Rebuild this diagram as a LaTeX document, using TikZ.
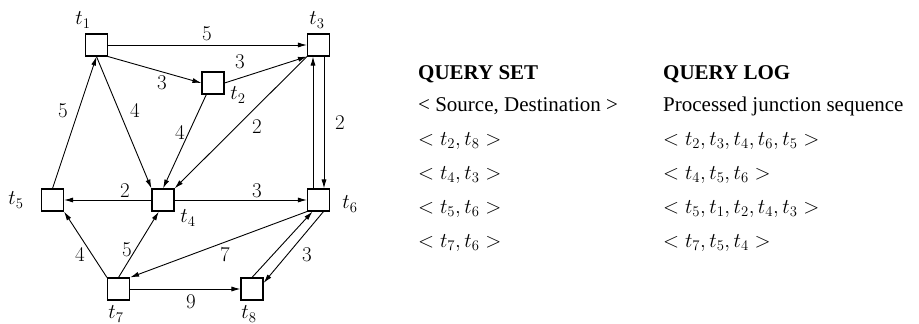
\RequirePackage{fix-cm}
\documentclass[tikz,border=0pt]{standalone}
\usepackage[no-math]{fontspec}
\setmainfont{Liberation Serif}
\usetikzlibrary{arrows.meta,positioning,calc}

\begin{document}
\begin{tikzpicture}[
  x=1pt, y=-1pt,
  font=\fontsize{21}{25}\selectfont,
  jn/.style={draw=black, line width=1.1pt, minimum size=22pt, inner sep=0pt},
  lbl/.style={inner sep=0pt},
  wt/.style={inner sep=0pt},
  road/.style={draw=black, line width=0.9pt, -{Latex[length=9pt,width=5pt]}},
  txt/.style={anchor=base west, inner sep=0pt}
]
\useasboundingbox (0,0) rectangle (919,324);

% junctions
\node[jn] (b1) at (96.5,45) {};
\node[jn] (b2) at (213,83) {};
\node[jn] (b3) at (318.5,45) {};
\node[jn] (b4) at (163,200) {};
\node[jn] (b5) at (52.5,200) {};
\node[jn] (b6) at (318.5,200) {};
\node[jn] (b7) at (118.5,289) {};
\node[jn] (b8) at (252,289) {};

\node[lbl] (l1) at (83,20) {$t_1$};
\node[lbl] (l2) at (238,95) {$t_2$};
\node[lbl] (l3) at (317,20) {$t_3$};
\node[lbl] (l4) at (188,218) {$t_4$};
\node[lbl] (l5) at (16,200) {$t_5$};
\node[lbl] (l6) at (350,204) {$t_6$};
\node[lbl] (l7) at (116,314) {$t_7$};
\node[lbl] (l8) at (249,314) {$t_8$};

% roads
\draw[road] (b1) -- (b3);
\draw[road] (b1.south east) -- (b2.west);
\draw[road] (b2.east) -- (b3.south west);
\draw[road] (b3.south west) -- (b4.north east);
\draw[road] (b2.240) -- (b4.north);
\draw[road] (b1.south) -- (b4.north west);
\draw[road] (b5.north) -- (b1.south);
\draw[road] ([xshift=-5.5pt]b6.north) -- ([xshift=-5.5pt]b3.south);
\draw[road] ([xshift=5.5pt]b3.south) -- ([xshift=5.5pt]b6.north);
\draw[road] (b4) -- (b5);
\draw[road] (b4) -- (b6);
\draw[road] (b7.north west) -- (b5.south east);
\draw[road] (b7.north) -- (b4.250);
\draw[road] (b6.south west) -- (b7.north east);
\draw[road] (b8.north) -- ([xshift=-6pt]b6.south);
\draw[road] ([xshift=5pt]b6.south) -- ([yshift=6pt]b8.east);
\draw[road] (b7) -- (b8);

% weights
\node[wt] (w13) at (207,34) {$5$};
\node[wt] (w12) at (162,83) {$3$};
\node[wt] (w23) at (240,62) {$3$};
\node[wt] (w14) at (135,111) {$4$};
\node[wt] (w51) at (63,111) {$5$};
\node[wt] (w24) at (180,133) {$4$};
\node[wt] (w34) at (257,127) {$2$};
\node[wt] (w36) at (340,123) {$2$};
\node[wt] (w45) at (125,191) {$2$};
\node[wt] (w46) at (257,191) {$3$};
\node[wt] (w75) at (80,255) {$4$};
\node[wt] (w74) at (127,250) {$5$};
\node[wt] (w67) at (225,255) {$7$};
\node[wt] (w68) at (307,255) {$3$};
\node[wt] (w78) at (191,302) {$9$};

% query table
\node[txt] (hset) at (418,79) {\textbf{QUERY SET}};
\node[txt] (hlog) at (663,79) {\textbf{QUERY LOG}};
\node[txt] (q0) at (418,111) {< Source, Destination >};
\node[txt] (g0) at (663,111) {Processed junction sequence};
\node[txt] (q1) at (418,145) {$<t_2,t_8>$};
\node[txt] (g1) at (663,145) {$<t_2,t_3,t_4,t_6,t_5>$};
\node[txt] (q2) at (418,179) {$<t_4,t_3>$};
\node[txt] (g2) at (663,179) {$<t_4,t_5,t_6>$};
\node[txt] (q3) at (418,213) {$<t_5,t_6>$};
\node[txt] (g3) at (663,213) {$<t_5,t_1,t_2,t_4,t_3>$};
\node[txt] (q4) at (418,247) {$<t_7,t_6>$};
\node[txt] (g4) at (663,247) {$<t_7,t_5,t_4>$};
\end{tikzpicture}
\end{document}
